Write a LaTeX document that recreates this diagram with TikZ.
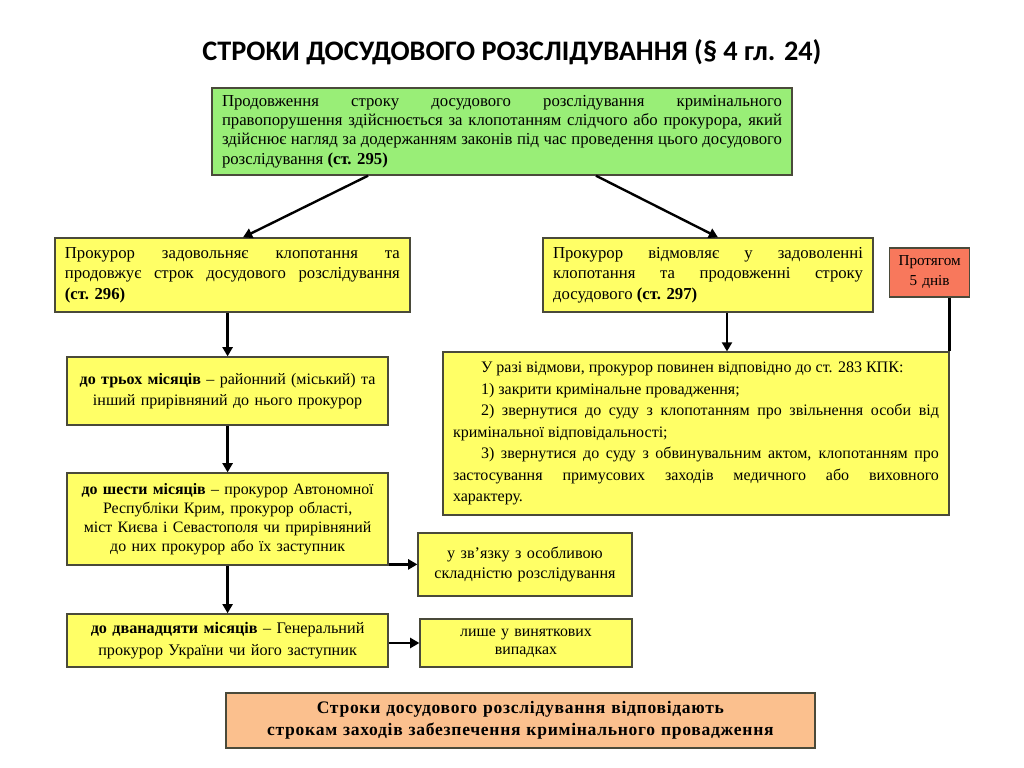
\documentclass[tikz,border=0pt]{standalone}
\usepackage{fontspec}
\setmainfont{Liberation Serif}
\newfontfamily\titlefont{Carlito}
\usepackage{xcolor}
\usetikzlibrary{arrows.meta,positioning,calc}
\definecolor{grn}{HTML}{99EE77}
\definecolor{ylw}{HTML}{FFFF66}
\definecolor{crl}{HTML}{F8785C}
\definecolor{pch}{HTML}{FBC08E}
\definecolor{edge}{HTML}{4A4A3A}

\begin{document}
\begin{tikzpicture}[
  bx/.style={draw=edge,line width=0.9pt,inner xsep=2.5mm,inner ysep=1mm,
             font=\fontsize{11.9}{13.6}\selectfont,align=justify},
  cbx/.style={bx,align=center,inner xsep=1.5mm,font=\fontsize{11.4}{14.8}\selectfont},
  arr/.style={line width=1.7pt,-{Triangle[length=2.3mm,width=2.5mm]}},
  ln/.style={line width=1.7pt}]
\useasboundingbox (0,0) rectangle (25.6,-19.2);
\node[font=\titlefont\bfseries\fontsize{20.1}{23}\selectfont] (title) at (12.8,-1.3)
  {СТРОКИ ДОСУДОВОГО РОЗСЛІДУВАННЯ (§ 4 гл. 24)};
\node[bx,fill=grn,text width=14cm,minimum height=2.175cm] (ext) at (12.55,-3.29)
  {Продовження строку досудового розслідування кримінального\linebreak
   правопорушення здійснюється за клопотанням слідчого або прокурора, який\linebreak
   здійснює нагляд за додержанням законів під час проведення цього досудового\linebreak
   розслідування \textbf{(ст. 295)}};
\node[bx,fill=ylw,text width=8.375cm,minimum height=1.85cm,
      font=\fontsize{11.9}{14.6}\selectfont] (zad) at (5.81,-6.875)
  {Прокурор задовольняє клопотання та\linebreak
   продовжує строк досудового розслідування\linebreak
   \textbf{(ст. 296)}};
\node[bx,fill=ylw,text width=7.75cm,minimum height=1.85cm,
      font=\fontsize{11.9}{14.6}\selectfont] (vidm) at (17.7,-6.875)
  {Прокурор відмовляє у задоволенні\linebreak
   клопотання та продовженні строку\linebreak
   досудового \textbf{(ст. 297)}};
\node[cbx,fill=crl,text width=1.9cm,minimum height=1.225cm,inner xsep=0.5mm,
      font=\fontsize{10.8}{14.2}\selectfont] (term) at (23.24,-6.81)
  {Протягом\\5 днів};
\node[bx,fill=ylw,text width=12.15cm,minimum height=4.075cm,
      font=\fontsize{11.4}{15.3}\selectfont] (refuse) at (17.4,-10.84)
  {\hspace*{1.75em}У разі відмови, прокурор повинен відповідно до ст. 283 КПК:\par
   \hspace*{1.75em}1) закрити кримінальне провадження;\par
   \hspace*{1.75em}2) звернутися до суду з клопотанням про звільнення особи від\linebreak
   кримінальної відповідальності;\par
   \hspace*{1.75em}3) звернутися до суду з обвинувальним актом, клопотанням про\linebreak
   застосування примусових заходів медичного або виховного\linebreak
   характеру.};
\node[cbx,fill=ylw,text width=7.725cm,minimum height=1.7cm] (m3) at (5.69,-9.775)
  {\textbf{до трьох місяців} – районний (міський) та\\
   інший прирівняний до нього прокурор};
\node[cbx,fill=ylw,text width=7.725cm,minimum height=2.3cm,
      font=\fontsize{11.3}{13.5}\selectfont] (m6) at (5.69,-12.975)
  {\textbf{до шести місяців} – прокурор Автономної\\
   Республіки Крим, прокурор області,\\
   міст Києва і Севастополя чи прирівняний\\
   до них прокурор або їх заступник};
\node[cbx,fill=ylw,text width=5.05cm,minimum height=1.575cm,
      font=\fontsize{11.5}{14.8}\selectfont] (compl) at (13.125,-14.11)
  {у зв’язку з особливою\\складністю розслідування};
\node[cbx,fill=ylw,text width=7.725cm,minimum height=1.325cm,
      font=\fontsize{11.5}{15.4}\selectfont] (m12) at (5.69,-16.01)
  {\textbf{до дванадцяти місяців} – Генеральний\\
   прокурор України чи його заступник};
\node[cbx,fill=ylw,text width=5cm,minimum height=1.2cm,
      font=\fontsize{11.3}{13}\selectfont] (excep) at (13.15,-16.075)
  {лише у виняткових\\випадках};
\node[cbx,fill=pch,text width=14.425cm,minimum height=1.375cm,
      font=\fontsize{12.5}{15.2}\selectfont\bfseries\addfontfeature{LetterSpace=4}] (note) at (13.01,-18.01)
  {Строки досудового розслідування відповідають\\
   строкам заходів забезпечення кримінального провадження};
% connectors
\draw[arr] ([xshift=-3.35cm]ext.south) -- ([xshift=0.265cm]zad.north);
\draw[arr] ([xshift=2.35cm]ext.south) -- ([xshift=0.25cm]vidm.north);
\draw[arr] (m3.north |- zad.south) -- (m3.north);
\draw[arr] (m3.south) -- (m6.north);
\draw[arr] (m6.south) -- (m12.north);
\draw[arr] (m6.east |- compl.west) -- (compl.west);
\draw[arr] (m12.east |- excep.west) -- (excep.west);
\draw[arr] ([xshift=4.75mm]vidm.south) -- ([xshift=4.75mm]vidm.south |- refuse.north);
\draw[ln] (term.south -| refuse.north east) -- (refuse.north east);
\end{tikzpicture}
\end{document}
